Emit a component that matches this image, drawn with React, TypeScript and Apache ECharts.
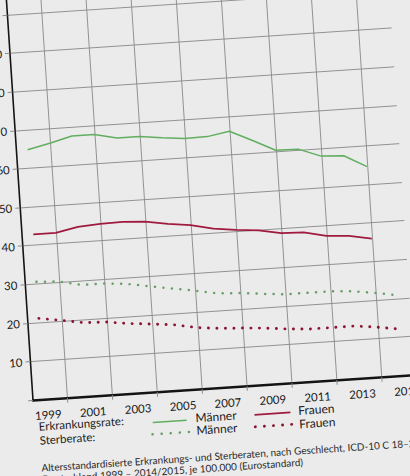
import React, { useEffect, useRef } from "react";
import * as echarts from "echarts";

// Years
const yearsIncidence = [1999, 2000, 2001, 2002, 2003, 2004, 2005, 2006, 2007, 2008, 2009, 2010, 2011, 2012, 2013, 2014];
const yearsMortality = [1999, 2000, 2001, 2002, 2003, 2004, 2005, 2006, 2007, 2008, 2009, 2010, 2011, 2012, 2013, 2014, 2015];

// Erkrankungsrate (incidence)
const menIncidence = [64.8, 66.1, 67.6, 67.6, 66.3, 66.3, 65.6, 65.0, 65.1, 66.1, 63.3, 60.4, 60.3, 58.1, 57.8, 54.6];
const womenIncidence = [42.8, 42.8, 44.0, 44.4, 44.5, 44.2, 43.2, 42.5, 41.2, 40.5, 40.0, 38.9, 38.7, 37.4, 37.0, 35.9];

// Sterberate (mortality)
const menMortality = [30.5, 30.2, 28.9, 28.9, 28.4, 27.4, 26.4, 25.5, 24.4, 24.1, 23.5, 23.0, 23.0, 23.0, 22.6, 21.8, 20.8];
const womenMortality = [21.0, 20.1, 19.1, 18.9, 18.1, 17.6, 17.0, 15.9, 15.3, 15.0, 14.6, 14.0, 13.6, 13.6, 13.6, 12.9, 12.0];

// Axis ticks / labels
const yearLabels = [1999, 2001, 2003, 2005, 2007, 2009, 2011, 2013, 2015];
const gridYears = [2000, 2002, 2004, 2006, 2008, 2010, 2012, 2014];
const yTicks = [0, 10, 20, 30, 40, 50, 60, 70, 80, 90, 100];
const yLabels = [10, 20, 30, 40, 50, 60, 70, 80, 90, 100];

// Legend / caption texts
const rowLabels = ["Erkrankungsrate:", "Sterberate:"];
const legendNames = ["Männer", "Frauen"];
const captionLines = [
  "Altersstandardisierte Erkrankungs- und Sterberaten, nach Geschlecht, ICD-10 C 18–21",
  "Deutschland 1999 – 2014/2015, je 100.000 (Eurostandard)",
];

const GREEN = "#62ae60";
const GREEN_DOT = "#6a9e68";
const RED = "#a01a3e";
const RED_DOT = "#8c1433";
const FONT = "Lato, 'Open Sans', sans-serif";

export default function App() {
  const ref = useRef<HTMLDivElement>(null);

  useEffect(() => {
    if (!ref.current) return;
    const chart = echarts.init(ref.current, null, { renderer: "svg" });
    const ox = 33;
    const oy = 416;
    const dotDash = [0.1, 8.4];
    const txt = (t: string, x: number, y: number, size: number, fill = "#1c1c1c") => ({
      type: "text",
      x,
      y,
      style: { text: t, fontSize: size, fontFamily: FONT, fill, verticalAlign: "middle", align: "left" },
    });

    const pairs = (xs: number[], ys: number[]) => xs.map((x, i) => [x, ys[i]]);

    chart.setOption({
      animation: false,
      backgroundColor: "transparent",
      grid: {
        left: 33,
        top: 14.6,
        right: 24.5,
        bottom: 104,
        containLabel: false,
        outerBoundsMode: "none",
      },
      xAxis: {
        type: "value",
        min: 1998.5,
        max: 2015.5,
        axisLine: { show: true, onZero: false, lineStyle: { color: "#141414", width: 2.6 } },
        axisTick: {
          show: true,
          customValues: gridYears,
          length: 5,
          lineStyle: { color: "#858585", width: 0.9 },
        },
        axisLabel: {
          customValues: yearLabels,
          margin: 9.5,
          padding: [0, 0, 0, 6],
          fontSize: 11.5,
          color: "#1c1c1c",
          fontFamily: FONT,
          formatter: (v: number) => String(Math.round(v)),
        },
        splitLine: { show: true, lineStyle: { color: "#8a8a8a", width: 0.9 } },
      },
      yAxis: {
        type: "value",
        min: 0,
        max: 104,
        axisLine: { show: true, onZero: false, lineStyle: { color: "#141414", width: 1.6 } },
        axisTick: {
          show: true,
          customValues: yTicks,
          length: 5,
          lineStyle: { color: "#858585", width: 0.9 },
        },
        axisLabel: {
          customValues: yLabels,
          margin: 8,
          fontSize: 11.5,
          color: "#1c1c1c",
          fontFamily: FONT,
          formatter: (v: number) => String(Math.round(v)),
        },
        splitLine: { show: true, lineStyle: { color: "#8a8a8a", width: 0.9 } },
      },
      series: [
        {
          name: "Männer Erkrankungsrate",
          type: "line",
          data: pairs(yearsIncidence, menIncidence),
          showSymbol: false,
          lineStyle: { color: GREEN, width: 1.5 },
          z: 3,
        },
        {
          name: "Frauen Erkrankungsrate",
          type: "line",
          data: pairs(yearsIncidence, womenIncidence),
          showSymbol: false,
          lineStyle: { color: RED, width: 1.8 },
          z: 3,
        },
        {
          name: "Männer Sterberate",
          type: "line",
          data: pairs(yearsMortality, menMortality),
          showSymbol: false,
          lineStyle: { color: GREEN_DOT, width: 2.5, type: dotDash, cap: "round" },
          z: 3,
        },
        {
          name: "Frauen Sterberate",
          type: "line",
          data: pairs(yearsMortality, womenMortality),
          showSymbol: false,
          lineStyle: { color: RED_DOT, width: 2.9, type: dotDash, cap: "round" },
          z: 3,
        },
      ],
      graphic: [
        txt(rowLabels[0], ox + 4, oy + 26.5, 11.5),
        txt(rowLabels[1], ox + 4, oy + 40.5, 11.5),
        {
          type: "line",
          shape: { x1: ox + 118, y1: oy + 30.5, x2: ox + 152, y2: oy + 30.5 },
          style: { stroke: GREEN, lineWidth: 1.5 },
        },
        txt(legendNames[0], ox + 161, oy + 28.5, 12),
        {
          type: "line",
          shape: { x1: ox + 220, y1: oy + 29.5, x2: ox + 256, y2: oy + 29.5 },
          style: { stroke: RED, lineWidth: 1.8 },
        },
        txt(legendNames[1], ox + 264, oy + 28, 12),
        {
          type: "line",
          shape: { x1: ox + 117, y1: oy + 42.2, x2: ox + 155, y2: oy + 42.2 },
          style: { stroke: GREEN_DOT, lineWidth: 2.5, lineDash: [0.1, 9], lineCap: "round" },
        },
        txt(legendNames[0], ox + 161, oy + 41, 12),
        {
          type: "line",
          shape: { x1: ox + 220, y1: oy + 41.5, x2: ox + 257, y2: oy + 41.5 },
          style: { stroke: RED_DOT, lineWidth: 2.9, lineDash: [0.1, 9], lineCap: "round" },
        },
        txt(legendNames[1], ox + 264, oy + 41.5, 12),
        txt(captionLines[0], ox + 4, oy + 68, 10, "#2a2a2a"),
        txt(captionLines[1], ox + 4, oy + 79.5, 10, "#2a2a2a"),
      ],
    });

    return () => chart.dispose();
  }, []);

  return (
    <div
      style={{
        position: "fixed",
        left: 0,
        top: 0,
        width: 410,
        height: 476,
        overflow: "hidden",
        background: "#ebebeb",
      }}
    >
      <div
        ref={ref}
        style={{
          position: "absolute",
          left: 0,
          top: -16.5,
          width: 440,
          height: 520,
          transform: "rotate(-3.8deg)",
          transformOrigin: "33px 416px",
        }}
      />
    </div>
  );
}
